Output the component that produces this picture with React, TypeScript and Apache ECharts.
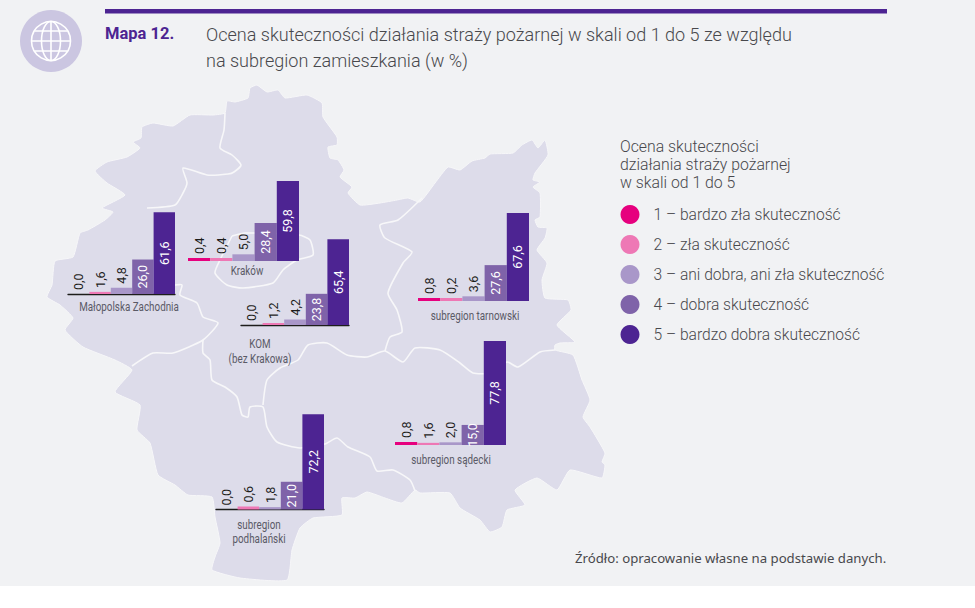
import React, { useEffect, useRef } from "react";
import * as echarts from "echarts";

const scoreNames = [
  "1 – bardzo zła skuteczność",
  "2 – zła skuteczność",
  "3 – ani dobra, ani zła skuteczność",
  "4 – dobra skuteczność",
  "5 – bardzo dobra skuteczność",
];
const scoreColors = ["#E6007E", "#EE78B5", "#A997C9", "#7F63A9", "#4D2492"];

const malopolskaZachodnia = [0.0, 1.6, 4.8, 26.0, 61.6];
const krakow = [0.4, 0.4, 5.0, 28.4, 59.8];
const kom = [0.0, 1.2, 4.2, 23.8, 65.4];
const tarnowski = [0.8, 0.2, 3.6, 27.6, 67.6];
const sadecki = [0.8, 1.6, 2.0, 15.0, 77.8];
const podhalanski = [0.0, 0.6, 1.8, 21.0, 72.2];

const FONT = "Roboto";

const regionCharts = [
  { values: malopolskaZachodnia, left: 68, base: 294, width: 107, axis: true, scale: 1.326 },
  { values: krakow, left: 188, base: 261, width: 111, axis: false, scale: 1.337 },
  { values: kom, left: 241, base: 325, width: 108, axis: true, scale: 1.31 },
  { values: tarnowski, left: 418, base: 301, width: 111, axis: false, scale: 1.3 },
  { values: sadecki, left: 395, base: 445, width: 111, axis: false, scale: 1.337 },
  { values: podhalanski, left: 216, base: 509.5, width: 108, axis: true, scale: 1.32 },
];

const regionLabels: [string, number, number][] = [
  ["Małopolska Zachodnia", 129, 307],
  ["Kraków", 247, 271],
  ["KOM", 260, 344],
  ["(bez Krakowa)", 260, 359],
  ["subregion tarnowski", 475, 316],
  ["subregion sądecki", 451, 460],
  ["subregion", 259, 525],
  ["podhalański", 259, 539],
];

// Map outline, traced
const outline = [
  [95,171],[107,162],[127,157],[140,148],[133,142],[141,138],[142,127],[153,123],[173,126],[190,115],[213,115],[225,113],
  [227,101],[235,102],[248,98],[250,88],[257,85],[267,92],[278,90],[285,98],[307,95],[322,103],[323,117],[337,137],[337,145],
  [328,147],[330,158],[338,160],[344,170],[340,177],[352,187],[348,193],[360,205],[380,203],[397,200],[408,198],[420,202],
  [435,183],[448,167],[460,170],[472,161],[485,158],[490,154],[513,153],[522,145],[532,140],[538,148],[545,140],[548,155],
  [535,173],[533,180],[540,182],[533,187],[540,193],[540,217],[535,220],[538,227],[547,228],[545,238],
  [537,250],[547,263],[542,280],[545,298],[568,300],[571,310],[557,325],[575,342],
  [560,343],[555,345],[555,350],[573,355],[582,380],[590,400],[583,417],[590,427],[605,453],[602,462],[605,465],[602,478],
  [570,470],[557,490],[537,478],[515,490],[525,505],[507,510],[502,527],[490,532],[480,520],[460,508],[450,493],[420,493],
  [415,490],[402,503],[385,498],[367,492],[355,498],[342,498],[342,515],[313,518],[300,528],[292,550],[287,580],[240,578],[212,570],
  [215,557],[220,543],[215,517],[212,497],[188,495],[175,485],[158,475],[150,443],[137,430],[140,405],[115,392],[132,370],[115,360],
  [83,347],[65,330],[73,318],[60,305],[47,297],[52,285],[55,261],[73,257],[80,233],[88,230],[105,220],[113,212],[102,208],[125,195],
  [107,183],
];

const boundaries = [
  // Małopolska Zachodnia – north & east
  [[225,113],[224,130],[220,148],[232,155],[241,165],[234,172],[228,174],[207,175],[183,168],[187,183],[183,193],[175,205],[147,208]],
  [[175,285],[182,285],[180,295],[197,303],[203,317],[218,323],[203,340],[173,353],[153,353],[132,366]],
  // KOM west/south
  [[203,340],[203,353],[210,360],[212,380],[225,387],[237,397],[242,415],[248,417],[250,407],[263,407],[267,427],[277,442],[300,448],[325,444],[337,438],[348,447],[370,457],[377,471],[393,470],[410,480],[415,491]],
  // KOM / sądecki
  [[263,405],[267,380],[280,368],[298,360],[308,345],[327,343],[347,355],[367,357],[385,351],[403,362],[415,348],[440,350],[460,363],[473,373],[490,373],[507,362],[518,367],[540,352],[555,350]],
  // KOM / tarnowski
  [[385,351],[390,337],[402,332],[397,310],[388,293],[403,263],[412,252],[385,238],[380,225],[398,220],[422,198]],
];

const krakowBorder = [
  [232,236],[245,233],[299,235],[310,240],[313,255],[297,260],[283,270],[273,283],[243,288],[227,285],[215,273],[220,260],[232,236],
];

const BG = "#F1F2F4";
const MAP = "#DDDCEA";
const INK = "#48484C";

function globe() {
  const c = "#FFFFFF";
  const s = { stroke: c, fill: "transparent", lineWidth: 1.6 };
  const cx = 51;
  const cy = 41;
  return [
    { type: "circle", z: 0, shape: { cx, cy, r: 31 }, style: { fill: "#CBC6E1" } },
    { type: "circle", z: 1, shape: { cx, cy, r: 19.5 }, style: s },
    { type: "ellipse", z: 1, shape: { cx, cy, rx: 9.5, ry: 19.5 }, style: s },
    { type: "line", z: 1, shape: { x1: cx, y1: cy - 19.5, x2: cx, y2: cy + 19.5 }, style: s },
    { type: "line", z: 1, shape: { x1: cx - 19.5, y1: cy, x2: cx + 19.5, y2: cy }, style: s },
    { type: "line", z: 1, shape: { x1: cx - 16.5, y1: cy - 10, x2: cx + 16.5, y2: cy - 10 }, style: s },
    { type: "line", z: 1, shape: { x1: cx - 16.5, y1: cy + 10, x2: cx + 16.5, y2: cy + 10 }, style: s },
  ];
}

function text(t: string, x: number, y: number, style: any, extra: any = {}) {
  return { type: "text", z: 1, x, y, ...extra, style: { text: t, ...style } };
}

export default function App() {
  const ref = useRef<HTMLDivElement>(null);
  useEffect(() => {
    const chart = echarts.init(ref.current!, undefined, { renderer: "svg" });
    const yMax = 80;
    const grid = regionCharts.map((r) => ({
      left: r.left,
      width: r.width,
      top: r.base - yMax * r.scale,
      height: yMax * r.scale,
      containLabel: false,
    }));
    const xAxis = regionCharts.map((r, i) => ({
      type: "category" as const,
      gridIndex: i,
      data: ["wynik"],
      axisTick: { show: false },
      axisLabel: { show: false },
      axisLine: { show: r.axis, lineStyle: { color: "#1D1D1B", width: 1.3 } },
    }));
    const yAxis = regionCharts.map((_, i) => ({
      type: "value" as const,
      gridIndex: i,
      min: 0,
      max: yMax,
      show: false,
      splitLine: { show: false },
    }));
    const series: any[] = [];
    regionCharts.forEach((r, i) => {
      r.values.forEach((v, k) => {
        const inside = k >= 3;
        series.push({
          type: "bar",
          name: scoreNames[k],
          xAxisIndex: i,
          yAxisIndex: i,
          data: [v],
          barGap: 0,
          barCategoryGap: 0,
          barMinHeight: v === 0 ? 0 : v < 1 ? 3 : 2,
          itemStyle: { color: scoreColors[k] },
          silent: true,
          z: 3,
          label: {
            show: true,
            position: inside ? "inside" : "top",
            distance: 4,
            rotate: 90,
            align: inside ? "center" : "left",
            verticalAlign: "middle",
            fontFamily: FONT,
            fontSize: 12.5,
            color: inside ? "#FFFFFF" : "#1D1D1B",
            formatter: (p: any) => p.value.toFixed(1).replace(".", ","),
          },
        });
      });
    });

    const titleStyle = { fontFamily: FONT, fontWeight: 300, fontSize: 18.05, fill: INK };
    const legendTitle = { fontFamily: FONT, fontWeight: 300, fontSize: 15.8, fill: INK };

    chart.setOption({
      animation: false,
      backgroundColor: "#FFFFFF",
      grid,
      xAxis,
      yAxis,
      series,
      legend: {
        orient: "vertical",
        left: 615.5,
        top: 200,
        itemWidth: 19,
        itemHeight: 19,
        itemGap: 11,
        icon: "circle",
        selectedMode: false,
        data: scoreNames,
        textStyle: {
          fontFamily: FONT,
          fontWeight: 300,
          fontSize: 15.6,
          color: INK,
          padding: [0, 0, 0, 9],
        },
      },
      graphic: [
        { type: "rect", z: -2, shape: { x: 0, y: 0, width: 975, height: 586 }, style: { fill: BG } },
        { type: "rect", z: 1, shape: { x: 105, y: 9, width: 782, height: 4.5 }, style: { fill: "#4D2492" } },
        ...globe(),
        { type: "polygon", z: 0, shape: { points: outline, smooth: 0.15 }, style: { fill: MAP, stroke: "#F7F7F9", lineWidth: 1 } },
        ...boundaries.map((b) => ({
          type: "polyline",
          z: 1,
          shape: { points: b, smooth: 0.2 },
          style: { stroke: "#F7F7F9", lineWidth: 1.6, fill: "transparent", lineJoin: "round" },
        })),
        {
          type: "polyline",
          z: 1,
          shape: { points: krakowBorder, smooth: 0.2 },
          style: { stroke: "#F7F7F9", lineWidth: 1.6, fill: "transparent", lineJoin: "round" },
        },
        text("Mapa 12.", 105, 25, { fontFamily: FONT, fontWeight: 700, fontSize: 16.5, fill: "#4D2492" }),
        text("Ocena skuteczności działania straży pożarnej w skali od 1 do 5 ze względu", 206, 25, titleStyle),
        text("na subregion zamieszkania (w %)", 206, 51, titleStyle),
        text("Ocena skuteczności", 620, 138, legendTitle),
        text("działania straży pożarnej", 620, 156, legendTitle),
        text("w skali od 1 do 5", 620, 174, legendTitle),
        text("Źródło: opracowanie własne na podstawie danych.", 575, 551, {
          fontFamily: "'Noto Sans'",
          fontSize: 13.2,
          fill: INK,
        }),
        ...regionLabels.map(([t, x, y]) =>
          text(
            t,
            x,
            y,
            {
              fontFamily: FONT,
              fontSize: 12,
              fill: "#5A5A66",
              align: "center",
              verticalAlign: "middle",
            },
            { scaleX: 0.82 }
          )
        ),
      ],
    });
    return () => chart.dispose();
  }, []);
  return (
    <div
      ref={ref}
      style={{ position: "fixed", left: 0, top: 0, width: 975, height: 608 }}
    />
  );
}
